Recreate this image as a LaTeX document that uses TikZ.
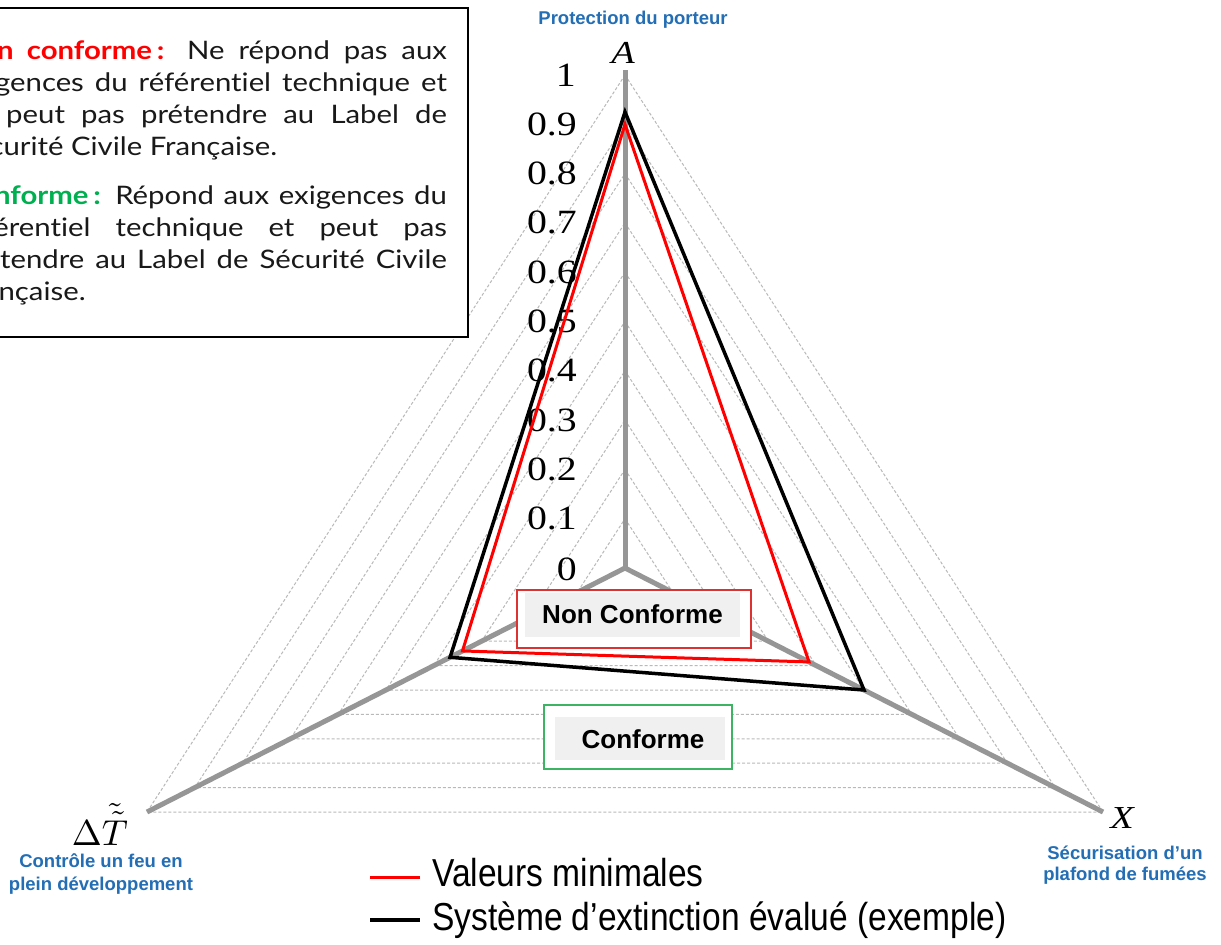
\documentclass[tikz,border=0pt]{standalone}
\usepackage{fontspec}
\usetikzlibrary{calc}
\newfontfamily\latof[Ligatures=NoCommon]{Lato}
\newfontfamily\arialf{Liberation Sans}
\newfontfamily\timesf{Liberation Serif}
\definecolor{nred}{RGB}{255,0,0}
\definecolor{ngreen}{RGB}{0,176,80}
\definecolor{lblue}{RGB}{35,110,180}
\definecolor{axgray}{RGB}{150,150,150}
\definecolor{gridgray}{RGB}{185,185,185}
\definecolor{boxred}{RGB}{220,50,50}
\definecolor{boxgreen}{RGB}{60,180,100}
\definecolor{boxfill}{RGB}{240,240,240}
\definecolor{txt}{RGB}{25,25,25}
\newcommand{\jline}[1]{\scalebox{1.15}[1]{\makebox[425pt][s]{#1}}}
\newcommand{\lline}[1]{\scalebox{1.15}[1]{#1}}
\begin{document}
\begin{tikzpicture}[x=1pt,y=-1pt,
  gridline/.style={draw=gridgray, line width=1pt, dash pattern=on 3pt off 2pt},
  axisline/.style={draw=axgray, line width=5pt},
  minpoly/.style={draw=red, line width=3pt},
  syspoly/.style={draw=black, line width=3.5pt},
  ticklbl/.style={anchor=east, inner sep=0pt, font=\timesf\fontsize{34}{40}\selectfont},
  varlbl/.style={inner sep=0pt, font=\timesf\itshape\fontsize{32}{38}\selectfont},
  axlbl/.style={text=lblue, font=\arialf\bfseries\fontsize{18.5}{22}\selectfont, align=center, inner sep=0pt},
  desc/.style={anchor=base west, inner sep=0pt, text=txt, font=\latof\fontsize{25.5}{31}\selectfont},
  zonebox/.style={line width=1.5pt, fill=white},
  zonefill/.style={fill=boxfill, draw=none},
  zonetext/.style={inner sep=0pt, font=\arialf\bfseries\fontsize{26}{30}\selectfont},
  legtext/.style={anchor=base west, inner sep=0pt, font=\arialf\fontsize{39}{44}\selectfont}
]
\useasboundingbox (0,0) rectangle (1221,945);
\clip (0,0) rectangle (1221,945);
\fill[white] (0,0) rectangle (1221,945);

% radar axes coordinates
\coordinate (C) at (625,568);
\coordinate (A) at (625,75);
\coordinate (X) at (1103,812);
\coordinate (T) at (147,812);
\coordinate (Atop) at (625,70);

% grid
\foreach \k in {0.1,0.2,0.3,0.4,0.5,0.6,0.7,0.8,0.9,1.0}{
  \draw[gridline] ($(C)!\k!(A)$) -- ($(C)!\k!(X)$) -- ($(C)!\k!(T)$) -- cycle;
}

% axes
\draw[axisline] (C) -- (Atop);
\draw[axisline] (C) -- (X);
\draw[axisline] (C) -- (T);

% tick labels
\node[ticklbl] (t10) at (576,75) {\scalebox{1.17}[1]{1}};
\foreach \v in {1,...,9}{
  \node[ticklbl] (t\v) at (577,{568-\v*49.3}) {\scalebox{1.17}[1]{0.\v}};
}
\node[ticklbl] (t0) at (577,569) {\scalebox{1.17}[1]{0}};

% polygons
\draw[minpoly] ($(C)!0.90!(A)$) -- ($(C)!0.385!(X)$) -- ($(C)!0.34!(T)$) -- cycle;
\draw[syspoly] ($(C)!0.925!(A)$) -- ($(C)!0.50!(X)$) -- ($(C)!0.366!(T)$) -- cycle;

% zone boxes
\draw[zonebox, draw=boxred] (517,590) rectangle (751,648);
\fill[zonefill] (525,593) rectangle (740,637);
\node[zonetext] (nc) at (632.5,614) {Non Conforme};
\draw[zonebox, draw=boxgreen] (544,705) rectangle (732,769);
\fill[zonefill] (555,717) rectangle (725,760);
\node[zonetext] (co) at (643,739) {Conforme};

% axis variable labels
\node[varlbl] (lA) at (623,53) {\scalebox{1.2}[1]{A}};
\node[varlbl] (lX) at (1122,818) {\scalebox{1.2}[1]{X}};
\node[inner sep=0pt, anchor=base] (lT) at (100,845) {\scalebox{3.6}{$\Delta\tilde{\tilde{T}}$}};

% axis titles
\node[axlbl] (pA) at (633,20) {Protection du porteur};
\node[axlbl, font=\arialf\bfseries\fontsize{18.5}{23}\selectfont] (pT) at (101,874) {Contrôle un feu en\\plein développement};
\node[axlbl, font=\arialf\bfseries\fontsize{18.5}{21}\selectfont] (pX) at (1125,865) {Sécurisation d’un\\plafond de fumées};

% legend
\coordinate (r1) at (370,877);
\coordinate (r2) at (420,877);
\coordinate (b1) at (370,920);
\coordinate (b2) at (420,920);
\draw[red, line width=3pt] (r1) -- (r2);
\draw[black, line width=3.5pt] (b1) -- (b2);
\node[legtext] (lg1) at (432,886) {\scalebox{0.86}[1]{Valeurs minimales}};
\node[legtext] (lg2) at (432,930) {\scalebox{0.86}[1]{Système d’extinction évalué (exemple)}};

% description box
\draw[fill=white, draw=black, line width=2pt] (-80,8) rectangle (468,337);
\node[desc] (d1) at (-42,59) {\jline{{\bfseries\color{nred}Non conforme\,:} Ne répond pas aux}};
\node[desc] (d2) at (-42,91) {\jline{exigences du référentiel technique et}};
\node[desc] (d3) at (-42,123) {\jline{ne peut pas prétendre au Label de}};
\node[desc] (d4) at (-42,155) {\lline{Sécurité Civile Française.}};
\node[desc] (d5) at (-42,204) {\jline{{\bfseries\color{ngreen}Conforme\,:} Répond aux exigences du}};
\node[desc] (d6) at (-42,236) {\jline{référentiel technique et peut pas}};
\node[desc] (d7) at (-42,268) {\jline{prétendre au Label de Sécurité Civile}};
\node[desc] (d8) at (-42,300) {\lline{Française.}};
\end{tikzpicture}
\end{document}
